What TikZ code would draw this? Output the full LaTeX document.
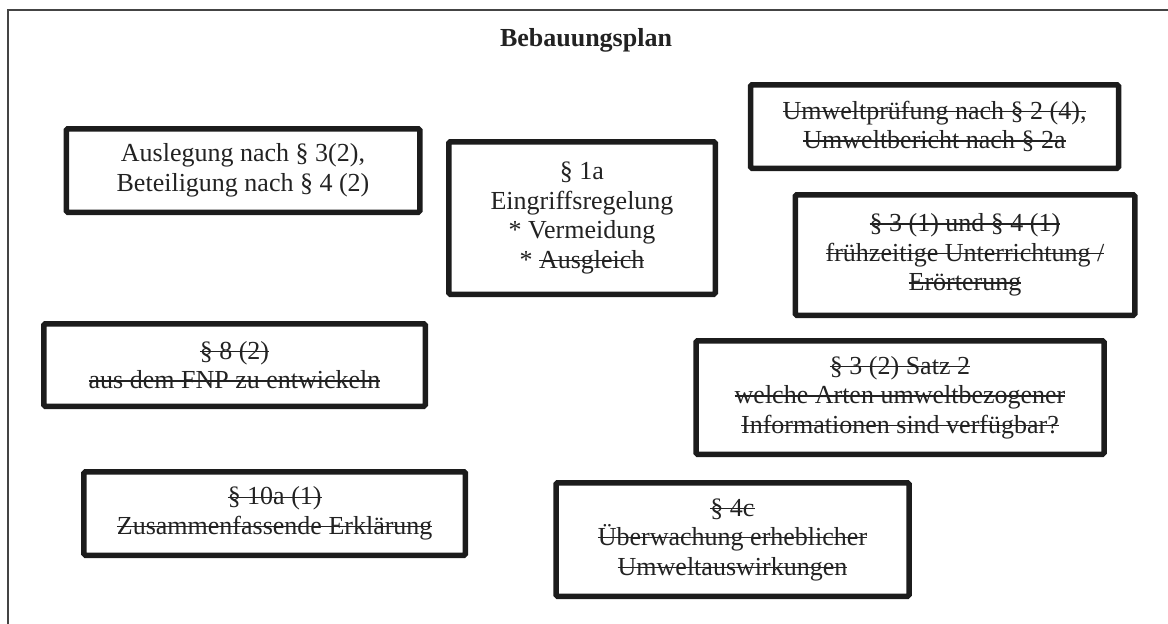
\documentclass[tikz,border=0pt]{standalone}
\usepackage{fontspec}
\setmainfont{Liberation Serif}
\definecolor{txt}{HTML}{222222}
\definecolor{boxc}{HTML}{1C1C1C}
\definecolor{framec}{HTML}{444444}
\newcommand{\mystrike}[1]{\setbox0=\hbox{#1}\rlap{\color{txt}\rule[0.27em]{\wd0}{1.3pt}}\box0}
\begin{document}
\begin{tikzpicture}[x=1pt,y=-1pt,
  lbox/.style={draw=boxc, line width=5.5pt, rounded corners=1.5pt, align=center,
    text=txt, inner sep=0pt, font=\fontsize{26}{29.5}\selectfont},
  titlestyle/.style={text=txt, font=\fontsize{26}{30}\selectfont\bfseries, inner sep=0pt}]
\useasboundingbox (0,0) rectangle (1168,624);
\coordinate (fbl) at (8,626);
\coordinate (ftl) at (8,10);
\coordinate (ftr) at (1170,10);
\draw[framec, line width=2pt] (fbl) -- (ftl) -- (ftr);
\node[titlestyle] (title) at (586,40) {Bebauungsplan};
\node[lbox, minimum width=353.5pt, minimum height=83.5pt] (b1) at (243,170.5)
  {Auslegung nach § 3(2),\\Beteiligung nach § 4 (2)};
\node[lbox, minimum width=266.5pt, minimum height=152.5pt] (b2) at (582,218)
  {§ 1a\\Eingriffsregelung\\* Vermeidung\\* \mystrike{Ausgleich}};
\node[lbox, minimum width=368pt, minimum height=83.5pt] (b3) at (934.5,126.5)
  {\mystrike{Umweltprüfung nach § 2 (4),}\\\mystrike{Umweltbericht nach § 2a}};
\node[lbox, minimum width=339.5pt, minimum height=120.5pt] (b4) at (965,255)
  {\mystrike{§ 3 (1) und § 4 (1)}\\\mystrike{frühzeitige Unterrichtung /}\\\mystrike{Erörterung}};
\node[lbox, minimum width=381.5pt, minimum height=82.5pt] (b5) at (234.5,365)
  {\mystrike{§ 8 (2)}\\\mystrike{aus dem FNP zu entwickeln}};
\node[lbox, minimum width=381.5pt, minimum height=83.5pt] (b6) at (274.7,513.5)
  {\mystrike{§ 10a (1)}\\\mystrike{Zusammenfassende Erklärung}};
\node[lbox, minimum width=408pt, minimum height=113.5pt] (b7) at (900,397.5)
  {\mystrike{§ 3 (2) Satz 2}\\\mystrike{welche Arten umweltbezogener}\\\mystrike{Informationen sind verfügbar?}};
\node[lbox, minimum width=353pt, minimum height=113.5pt] (b8) at (732.5,539.5)
  {\mystrike{§ 4c}\\\mystrike{Überwachung erheblicher}\\\mystrike{Umweltauswirkungen}};
\end{tikzpicture}
\end{document}
